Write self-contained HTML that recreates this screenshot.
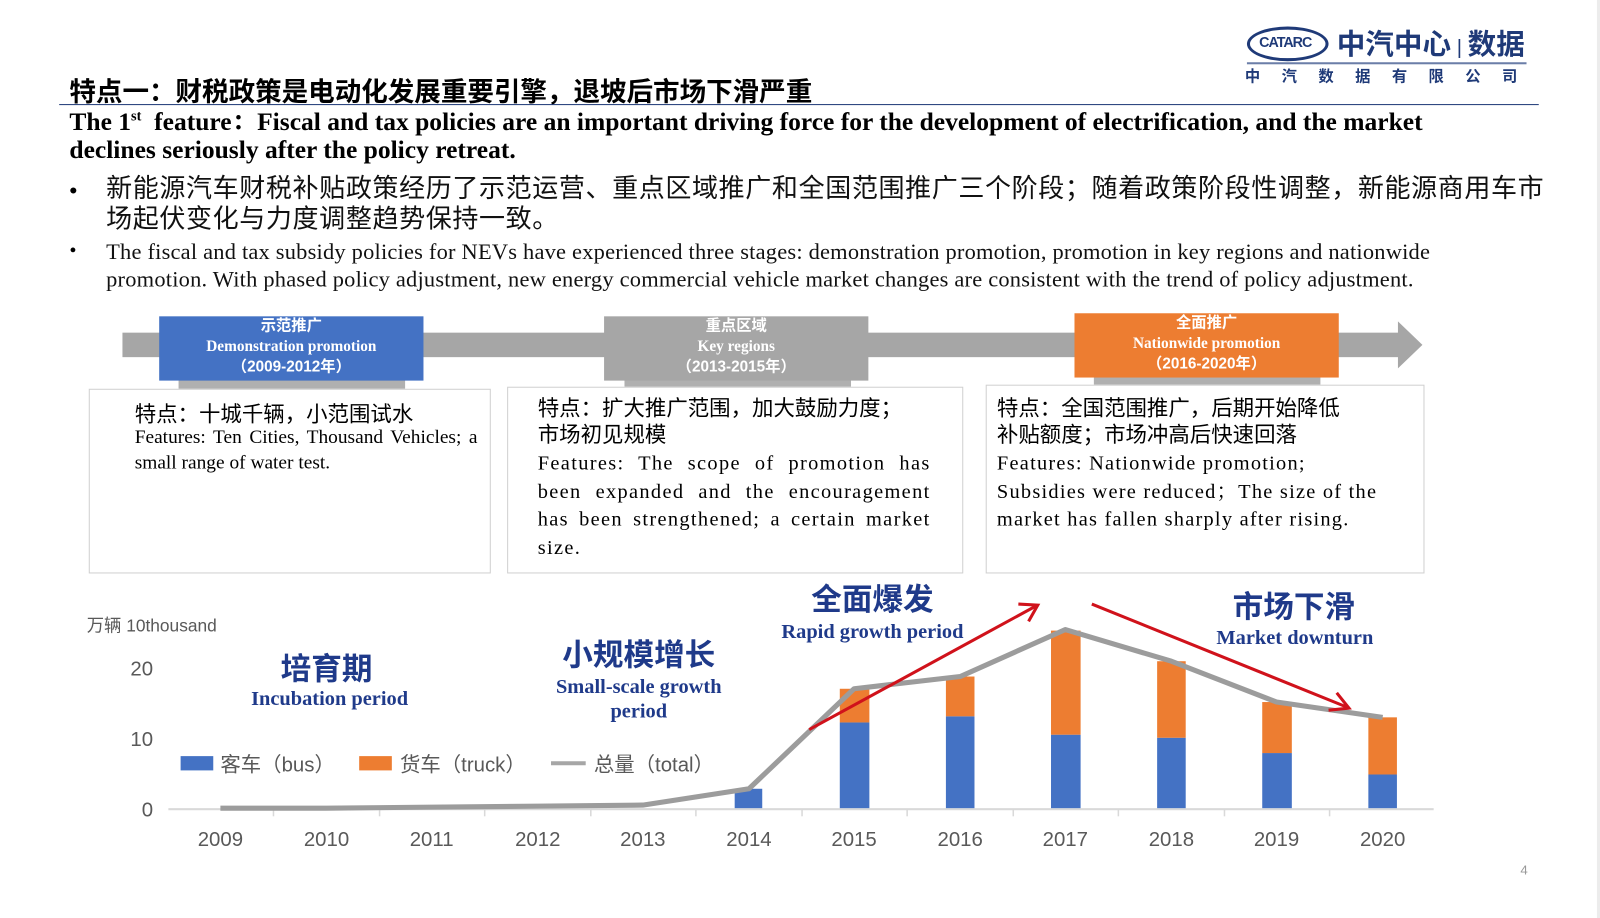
<!DOCTYPE html>
<html><head><meta charset="utf-8"><style>
body{margin:0;width:1600px;height:900px;background:#fff;position:relative;overflow:hidden;font-family:"Liberation Serif","Noto Serif CJK SC",serif;}
#w{position:absolute;left:0;top:0;width:1568px;height:882px;transform:scale(1.0204);transform-origin:0 0}
.a{position:absolute;white-space:nowrap}
.cn{font-family:"Liberation Sans","Noto Sans CJK SC",sans-serif}
.box{position:absolute;border:1px solid #d0d0d0;background:#fff}
.tag{position:absolute;color:#fff;text-align:center;font-weight:bold;font-size:15px;line-height:20px}
.j{text-align:justify}
</style></head><body><div id="w">
<div style="position:absolute;left:1565px;top:0;width:10px;height:900px;background:#ececec"></div>
<!-- logo -->
<div class="a" style="left:1222px;top:26px;width:74px;height:28px;border:3px solid #1f3a78;border-radius:50%;"></div>
<div class="a" style="left:1234px;top:33px;font:bold 14px 'Liberation Sans',sans-serif;color:#1f3a78;letter-spacing:-1px">CATARC</div>
<div class="a cn" style="left:1310px;top:22px;font-size:28px;font-weight:bold;color:#1f3a78">中汽中心<span style="font-size:20px;font-weight:normal"> | </span>数据</div>
<div class="a" style="left:1222px;top:61px;width:274px;height:2px;background:#6b7ea8"></div>
<div class="a cn" style="left:1220px;top:64px;font-size:15px;font-weight:bold;color:#1f3a78;letter-spacing:21px">中汽数据有限公司</div>
<!-- title -->
<div class="a cn" style="left:68px;top:70px;font-size:26px;font-weight:bold;color:#000">特点一：财税政策是电动化发展重要引擎，退坡后市场下滑严重</div>
<div class="a" style="left:58px;top:102px;width:1450px;height:1px;background:#1f3a78"></div>
<div class="a" style="left:68px;top:101px;font-size:25px;font-weight:bold;line-height:28px;white-space:normal;width:1400px">The 1<sup style="font-size:14px">st</sup>&nbsp; feature：Fiscal and tax policies are an important driving force for the development of electrification, and the market declines seriously after the policy retreat.</div>
<div class="a cn" style="left:68px;top:172px;font-size:22px;line-height:30px">•</div>
<div class="a cn" style="left:104px;top:170px;font-size:25.5px;line-height:30px;white-space:normal;width:1410px;color:#111;letter-spacing:0.6px">新能源汽车财税补贴政策经历了示范运营、重点区域推广和全国范围推广三个阶段；随着政策阶段性调整，新能源商用车市场起伏变化与力度调整趋势保持一致。</div>
<div class="a" style="left:68px;top:235px;font-size:20px">•</div>
<div class="a" style="left:104px;top:233px;font-size:22px;line-height:27px;white-space:normal;width:1360px;color:#111;letter-spacing:0.2px">The fiscal and tax subsidy policies for NEVs have experienced three stages: demonstration promotion, promotion in key regions and nationwide promotion. With phased policy adjustment, new energy commercial vehicle market changes are consistent with the trend of policy adjustment.</div>
<!-- arrow -->
<div class="a" style="left:120px;top:326px;width:1252px;height:24px;background:#a6a6a6"></div>
<div class="a" style="left:1370px;top:315px;width:0;height:0;border-top:23px solid transparent;border-bottom:23px solid transparent;border-left:24px solid #a6a6a6"></div>
<div class="a" style="left:175px;top:370px;width:222px;height:12px;background:#b0b0b0"></div>
<div class="a" style="left:612px;top:370px;width:222px;height:12px;background:#b0b0b0"></div>
<div class="a" style="left:1072px;top:368px;width:222px;height:12px;background:#b0b0b0"></div>
<div class="tag" style="left:156px;top:310px;width:259px;height:63px;background:#4472c4"><span class="cn">示范推广</span><br>Demonstration promotion<br><span class="cn">（2009-2012年）</span></div>
<div class="tag" style="left:592px;top:310px;width:259px;height:63px;background:#a6a6a6"><span class="cn">重点区域</span><br>Key regions<br><span class="cn">（2013-2015年）</span></div>
<div class="tag" style="left:1053px;top:307px;width:259px;height:63px;background:#ed7d31"><span class="cn">全面推广</span><br>Nationwide promotion<br><span class="cn">（2016-2020年）</span></div>
<!-- boxes -->
<div class="box" style="left:87px;top:381px;width:392px;height:179px"></div>
<div class="box" style="left:497px;top:379px;width:445px;height:181px"></div>
<div class="box" style="left:966px;top:377px;width:428px;height:183px"></div>
<div class="a cn" style="left:132px;top:390px;font-size:21px">特点：十城千辆，小范围试水</div>
<div class="a j" style="left:132px;top:416px;font-size:19px;line-height:25px;white-space:normal;width:336px">Features: Ten Cities, Thousand Vehicles; a small range of water test.</div>
<div class="a cn" style="left:527px;top:388px;font-size:21px;line-height:26px;white-space:normal;width:375px">特点：扩大推广范围，加大鼓励力度；市场初见规模</div>
<div class="a j" style="left:527px;top:441px;font-size:20px;line-height:27.5px;white-space:normal;width:385px;letter-spacing:1.3px">Features: The scope of promotion has been expanded and the encouragement has been strengthened; a certain market size.</div>
<div class="a cn" style="left:977px;top:388px;font-size:21px;line-height:26px;white-space:normal;width:355px">特点：全国范围推广，后期开始降低补贴额度；市场冲高后快速回落</div>
<div class="a" style="left:977px;top:441px;font-size:20px;line-height:27.5px;white-space:normal;width:380px;letter-spacing:1.2px">Features: Nationwide promotion; Subsidies were reduced；The size of the market has fallen sharply after rising.</div>
<!-- chart -->
<svg class="a" style="left:0;top:0" width="1600" height="900">
<g font-family="Liberation Sans, Noto Sans CJK SC, sans-serif" fill="#595959" font-size="20">
<text x="85" y="619" font-size="17">万辆  10thousand</text>
<text x="150" y="662" text-anchor="end">20</text>
<text x="150" y="731" text-anchor="end">10</text>
<text x="150" y="800" text-anchor="end">0</text>
<line x1="165" y1="793" x2="1405" y2="793" stroke="#d9d9d9" stroke-width="2"/>
<g stroke="#d9d9d9" stroke-width="1.5">
<line x1="268" y1="793" x2="268" y2="800"/><line x1="372" y1="793" x2="372" y2="800"/><line x1="475" y1="793" x2="475" y2="800"/><line x1="579" y1="793" x2="579" y2="800"/><line x1="682" y1="793" x2="682" y2="800"/><line x1="786" y1="793" x2="786" y2="800"/><line x1="889" y1="793" x2="889" y2="800"/><line x1="993" y1="793" x2="993" y2="800"/><line x1="1096" y1="793" x2="1096" y2="800"/><line x1="1200" y1="793" x2="1200" y2="800"/><line x1="1303" y1="793" x2="1303" y2="800"/>
</g>
<g text-anchor="middle">
<text x="216" y="829">2009</text><text x="320" y="829">2010</text><text x="423" y="829">2011</text><text x="527" y="829">2012</text><text x="630" y="829">2013</text><text x="734" y="829">2014</text><text x="837" y="829">2015</text><text x="941" y="829">2016</text><text x="1044" y="829">2017</text><text x="1148" y="829">2018</text><text x="1251" y="829">2019</text><text x="1355" y="829">2020</text>
</g>
<g fill="#4472c4">
<rect x="720" y="773" width="27" height="19"/>
<rect x="823" y="708" width="29" height="84"/>
<rect x="927" y="702" width="28" height="90"/>
<rect x="1030" y="720" width="29" height="72"/>
<rect x="1134" y="723" width="28" height="69"/>
<rect x="1237" y="738" width="29" height="54"/>
<rect x="1341" y="759" width="28" height="33"/>
</g>
<g fill="#ed7d31">
<rect x="823" y="675" width="29" height="33"/>
<rect x="927" y="663" width="28" height="39"/>
<rect x="1030" y="618" width="29" height="102"/>
<rect x="1134" y="648" width="28" height="75"/>
<rect x="1237" y="688" width="29" height="50"/>
<rect x="1341" y="703" width="28" height="56"/>
</g>
<polyline points="216,792 320,792 423,791 527,790 630,789 734,773 837,675 941,663 1044,617 1148,648 1251,688 1355,703" fill="none" stroke="#9c9c9c" stroke-width="5" stroke-linejoin="round"/>
<rect x="177" y="741" width="32" height="14" fill="#4472c4"/>
<text x="216" y="756">客车（bus）</text>
<rect x="352" y="741" width="32" height="14" fill="#ed7d31"/>
<text x="392" y="756">货车（truck）</text>
<line x1="540" y1="748" x2="574" y2="748" stroke="#a6a6a6" stroke-width="4"/>
<text x="582" y="756">总量（total）</text>
</g>
<g stroke="#d0121b" stroke-width="3" fill="none">
<line x1="793" y1="715" x2="1015" y2="594"/>
<polyline points="998,592 1017,593 1008,609"/>
<line x1="1070" y1="592" x2="1320" y2="693"/>
<polyline points="1302,696 1322,694 1310,679"/>
</g>
<g font-family="Liberation Sans, Noto Sans CJK SC, sans-serif" font-weight="bold" fill="#1f3a8a" text-anchor="middle" font-size="30">
<text x="320" y="666">培育期</text>
<text x="626" y="652">小规模增长</text>
<text x="855" y="598">全面爆发</text>
<text x="1268" y="605">市场下滑</text>
</g>
<g font-family="Liberation Serif, serif" font-weight="bold" fill="#1f3a8a" text-anchor="middle" font-size="20">
<text x="323" y="691">Incubation period</text>
<text x="626" y="679">Small-scale growth</text>
<text x="626" y="703">period</text>
<text x="855" y="625">Rapid growth period</text>
<text x="1269" y="631">Market downturn</text>
</g>
<text x="1490" y="857" font-family="Liberation Sans,sans-serif" font-size="13" fill="#999">4</text>
</svg>
</div></body></html>
